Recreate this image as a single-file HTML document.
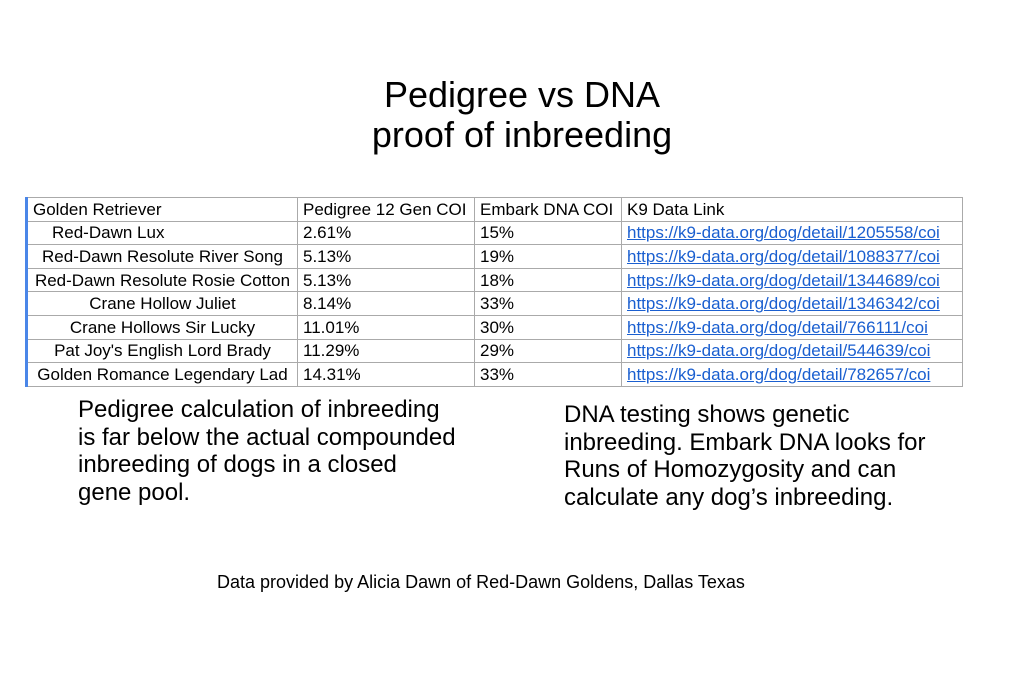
<!DOCTYPE html>
<html><head><meta charset="utf-8"><style>
body{margin:0;width:1024px;height:683px;background:#fff;font-family:"Liberation Sans",sans-serif;color:#000;position:relative;overflow:hidden}
.t{position:absolute;left:0;width:1044px;text-align:center;font-size:36px;line-height:40px}
table{position:absolute;left:25px;top:197px;border-collapse:collapse;font-size:17px;table-layout:fixed;width:936px}
td{border:1px solid #aaa;height:22.6px;padding:0 5px;white-space:nowrap;line-height:17px;overflow:visible}
td:first-child{text-align:center;border-left:3px solid #4a86e8;padding:0 2px}
a{color:#1a5fd0;text-decoration:underline}
.p{position:absolute;font-size:24px;line-height:27.5px}
</style></head><body>
<div class="t" style="top:75px">Pedigree vs DNA</div>
<div class="t" style="top:115px">proof of inbreeding</div>
<table>
<colgroup><col style="width:271px"><col style="width:177px"><col style="width:147px"><col style="width:341px"></colgroup>
<tr><td style="text-align:left;padding-left:5px">Golden Retriever</td><td>Pedigree 12 Gen COI</td><td>Embark DNA COI</td><td>K9 Data Link</td></tr>
<tr><td style="text-align:left;padding-left:24px">Red-Dawn Lux</td><td>2.61%</td><td>15%</td><td><a>https://k9-data.org/dog/detail/1205558/coi</a></td></tr>
<tr><td>Red-Dawn Resolute River Song</td><td>5.13%</td><td>19%</td><td><a>https://k9-data.org/dog/detail/1088377/coi</a></td></tr>
<tr><td>Red-Dawn Resolute Rosie Cotton</td><td>5.13%</td><td>18%</td><td><a>https://k9-data.org/dog/detail/1344689/coi</a></td></tr>
<tr><td>Crane Hollow Juliet</td><td>8.14%</td><td>33%</td><td><a>https://k9-data.org/dog/detail/1346342/coi</a></td></tr>
<tr><td>Crane Hollows Sir Lucky</td><td>11.01%</td><td>30%</td><td><a>https://k9-data.org/dog/detail/766111/coi</a></td></tr>
<tr><td>Pat Joy's English Lord Brady</td><td>11.29%</td><td>29%</td><td><a>https://k9-data.org/dog/detail/544639/coi</a></td></tr>
<tr><td>Golden Romance Legendary Lad</td><td>14.31%</td><td>33%</td><td><a>https://k9-data.org/dog/detail/782657/coi</a></td></tr>
</table>
<div class="p" style="left:78px;top:396px">Pedigree calculation of inbreeding<br>is far below the actual compounded<br>inbreeding of dogs in a closed<br>gene pool.</div>
<div class="p" style="left:564px;top:401px">DNA testing shows genetic<br>inbreeding. Embark DNA looks for<br>Runs of Homozygosity and can<br>calculate any dog’s inbreeding.</div>
<div style="position:absolute;left:217px;top:572px;font-size:18px">Data provided by Alicia Dawn of Red-Dawn Goldens, Dallas Texas</div>
</body></html>
